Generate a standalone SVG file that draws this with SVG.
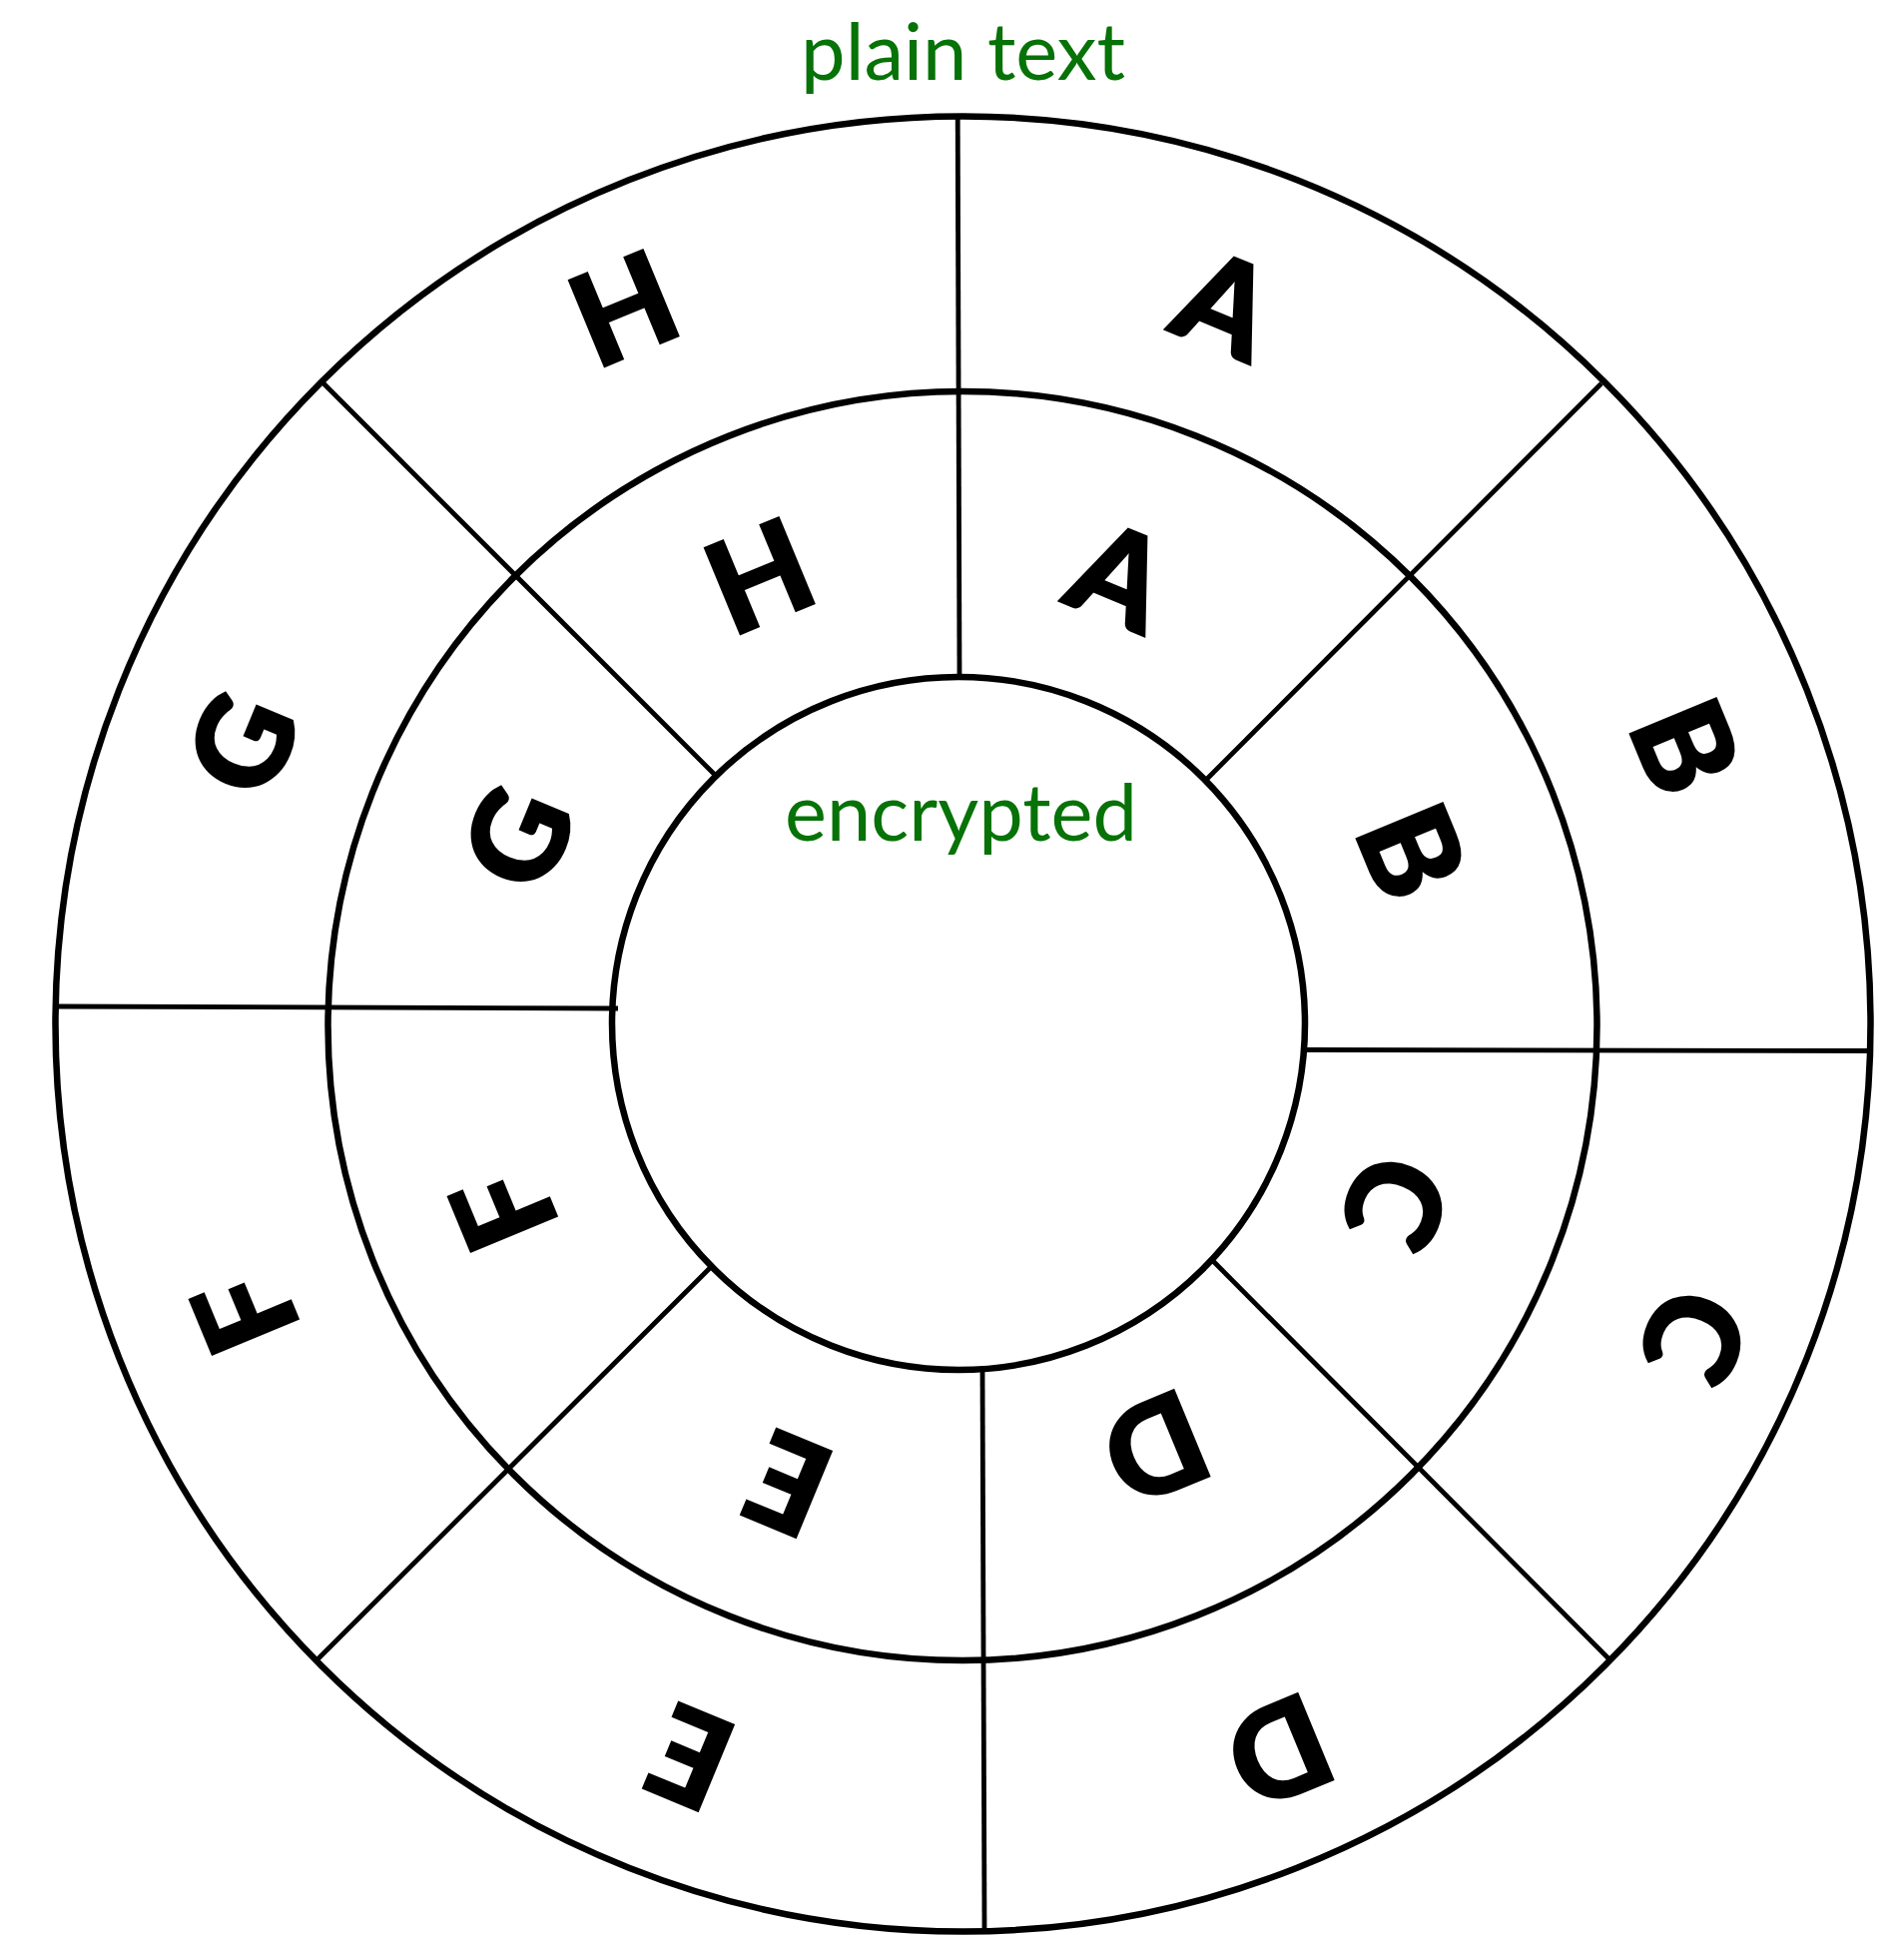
<svg xmlns="http://www.w3.org/2000/svg" width="1907" height="1938" viewBox="0 0 1907 1938">
<style>
.ring{fill:none;stroke:#000;stroke-width:6.5}
.spoke{stroke:#000;stroke-width:4.8;fill:none}
.lbl{font-family:Lato,"Liberation Sans",sans-serif;font-size:80px;fill:#077207}
.ltr{font-family:Lato,"Liberation Sans",sans-serif;font-weight:900;font-size:128px;fill:#000;stroke:#000;stroke-width:2.5;stroke-linejoin:miter;text-anchor:middle}
</style>
<rect width="1907" height="1938" fill="#fff"/>
<g id="rings">
<circle class="ring" cx="964.5" cy="1025.5" r="909"/>
<circle class="ring" cx="964" cy="1027.5" r="635.5"/>
<circle class="ring" cx="960" cy="1025" r="347"/>
</g>
<g id="connectors">
<line class="spoke" x1="959.2" y1="117" x2="961" y2="678"/>
<line class="spoke" x1="1604" y1="384" x2="1209" y2="780"/>
<line class="spoke" x1="1308" y1="1051.5" x2="1872" y2="1052.5"/>
<line class="spoke" x1="1215" y1="1263" x2="1614" y2="1664"/>
<line class="spoke" x1="984" y1="1372" x2="986" y2="1933"/>
<line class="spoke" x1="712" y1="1269" x2="315" y2="1665"/>
<line class="spoke" x1="56" y1="1008" x2="619" y2="1010"/>
<line class="spoke" x1="323" y1="383" x2="716" y2="776"/>
</g>
<g id="labels">
<text class="lbl" x="802" y="80" textLength="325" lengthAdjust="spacingAndGlyphs">plain text</text>
<text class="lbl" x="786" y="842" textLength="353" lengthAdjust="spacingAndGlyphs">encrypted</text>
</g>
<g id="outer-ring">
<g id="outer-A" transform="translate(1227,305) rotate(22.5)"><text class="ltr" x="0" y="46">A</text></g>
<g id="outer-B" transform="translate(1688,748) rotate(67.5)"><text class="ltr" x="0" y="46">B</text></g>
<g id="outer-C" transform="translate(1697,1338) rotate(112.5)"><text class="ltr" x="0" y="46">C</text></g>
<g id="outer-D" transform="translate(1281,1754) rotate(157.5)"><text class="ltr" x="0" y="46">D</text></g>
<g id="outer-E" transform="translate(692,1760) rotate(202.5)"><text class="ltr" x="0" y="46">E</text></g>
<g id="outer-F" transform="translate(246,1314) rotate(247.5)"><text class="ltr" x="0" y="46">F</text></g>
<g id="outer-G" transform="translate(243,745) rotate(292.5)"><text class="ltr" x="0" y="46">G</text></g>
<g id="outer-H" transform="translate(625,309) rotate(337.5)"><text class="ltr" x="0" y="46">H</text></g>
</g>
<g id="inner-ring">
<g id="inner-A" transform="translate(1121,577) rotate(22.5)"><text class="ltr" x="0" y="46">A</text></g>
<g id="inner-B" transform="translate(1414,853) rotate(67.5)"><text class="ltr" x="0" y="46">B</text></g>
<g id="inner-C" transform="translate(1398,1204) rotate(112.5)"><text class="ltr" x="0" y="46">C</text></g>
<g id="inner-D" transform="translate(1157,1450) rotate(157.5)"><text class="ltr" x="0" y="46">D</text></g>
<g id="inner-E" transform="translate(790,1486) rotate(202.5)"><text class="ltr" x="0" y="46">E</text></g>
<g id="inner-F" transform="translate(505,1211) rotate(247.5)"><text class="ltr" x="0" y="46">F</text></g>
<g id="inner-G" transform="translate(519,839) rotate(292.5)"><text class="ltr" x="0" y="46">G</text></g>
<g id="inner-H" transform="translate(761,577) rotate(337.5)"><text class="ltr" x="0" y="46">H</text></g>
</g>
</svg>
